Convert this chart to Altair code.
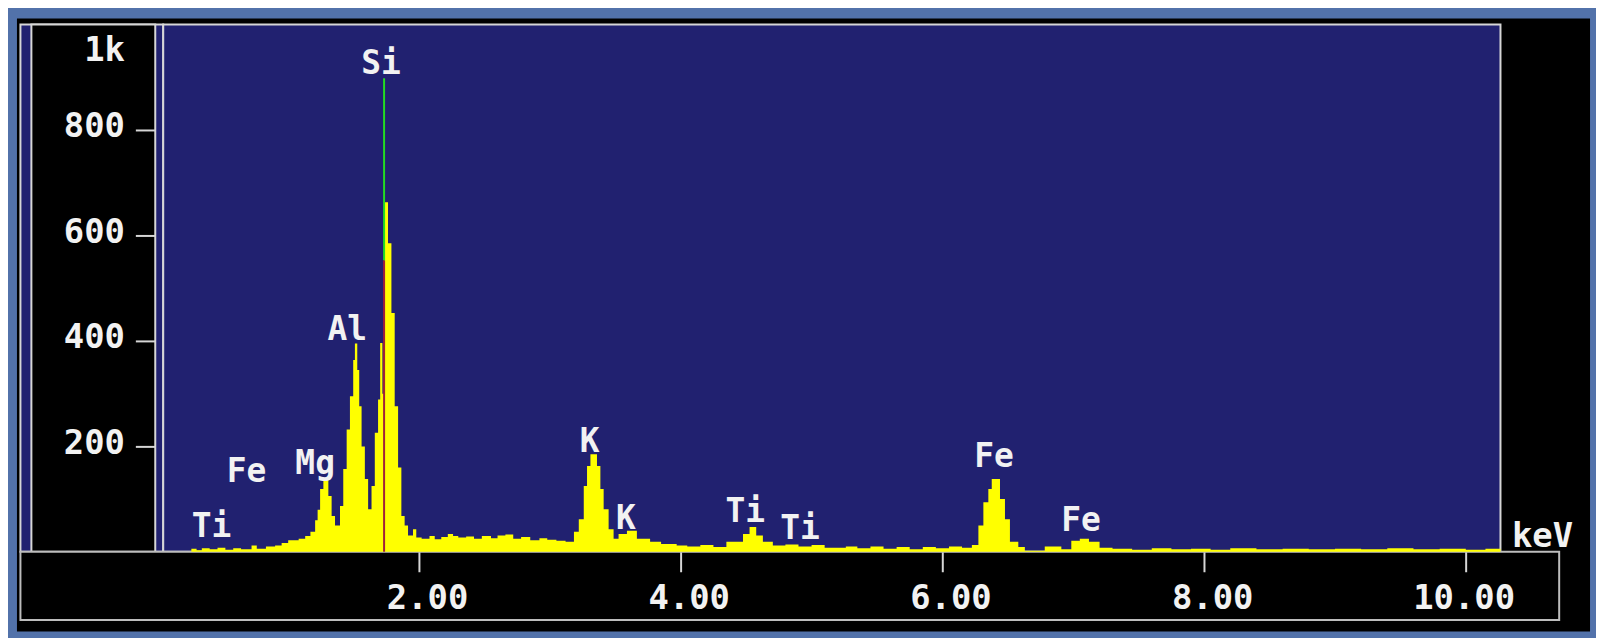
import altair as alt
import pandas as pd

# ---------------- data ----------------
energy_kev = [
    0.045, 0.26, 0.30, 0.34, 0.40, 0.46, 0.52, 0.58, 0.64, 0.72,
    0.76, 0.83, 0.90, 0.95, 1.00, 1.08, 1.13, 1.17, 1.206, 1.225,
    1.244, 1.269, 1.307, 1.332, 1.358, 1.396, 1.421, 1.447, 1.472, 1.497,
    1.510, 1.528, 1.543, 1.561, 1.586, 1.611, 1.637, 1.662, 1.687, 1.703,
    1.720, 1.735, 1.763, 1.789, 1.814, 1.840, 1.865, 1.890, 1.916, 1.954,
    1.979, 2.02, 2.08, 2.12, 2.17, 2.22, 2.26, 2.30, 2.36, 2.42,
    2.48, 2.55, 2.60, 2.66, 2.72, 2.78, 2.85, 2.92, 2.98, 3.05,
    3.12, 3.184, 3.221, 3.259, 3.284, 3.310, 3.360, 3.386, 3.411, 3.449,
    3.487, 3.525, 3.589, 3.665, 3.766, 3.85, 3.969, 4.05, 4.15, 4.25,
    4.349, 4.476, 4.526, 4.577, 4.628, 4.704, 4.80, 4.90, 5.00, 5.10,
    5.262, 5.35, 5.45, 5.55, 5.65, 5.75, 5.85, 5.95, 6.05, 6.15,
    6.225, 6.275, 6.313, 6.351, 6.377, 6.440, 6.478, 6.516, 6.580, 6.630,
    6.782, 6.909, 6.985, 7.05, 7.12, 7.201, 7.30, 7.45, 7.60, 7.75,
    7.90, 8.05, 8.20, 8.40, 8.60, 8.80, 9.00, 9.20, 9.40, 9.60,
    9.80, 10.00, 10.15, 10.265,
]
counts = [
    0, 6, 3, 7, 5, 8, 4, 7, 5, 12,
    6, 10, 12, 17, 22, 25, 30, 38, 60, 80,
    119, 140, 106, 68, 50, 87, 157, 232, 295, 364,
    395, 345, 276, 200, 138, 81, 125, 226, 289, 396,
    300, 663, 585, 453, 276, 160, 68, 50, 31, 43,
    27, 25, 30, 24, 28, 34, 30, 27, 29, 25,
    30, 26, 31, 33, 25, 28, 22, 26, 23, 21,
    19, 38, 62, 125, 163, 185, 163, 119, 81, 43,
    25, 34, 40, 25, 19, 15, 12, 10, 13, 9,
    19, 34, 47, 31, 19, 12, 14, 10, 13, 8,
    10, 7, 10, 6, 9, 5, 9, 7, 10, 8,
    13, 50, 94, 119, 138, 100, 62, 19, 9, 2,
    10, 5, 21, 25, 19, 8, 6, 4, 7, 5,
    6, 4, 7, 5, 6, 5, 6, 5, 7, 5,
    6, 4, 6, 6,
]
assert len(energy_kev) == len(counts)

label_text = ["Ti", "Fe", "Mg", "Al", "Si", "K", "K", "Ti", "Ti", "Fe", "Fe"]
label_kev = [0.414, 0.682, 1.206, 1.452, 1.710, 3.303, 3.580, 4.494, 4.912, 6.395, 7.060]
label_counts = [28, 132, 147, 402, 906, 189, 43, 56, 25, 160, 40]

si_marker_kev = [1.733]
si_marker_top = [898]
si_marker_mid = [553]
si_marker_base = [0]

x_ticks = [2, 4, 6, 8, 10]
y_ticks = [200, 400, 600, 800, 1000]

# ---------------- styling ----------------
FONT = "DejaVu Sans Mono"
WHITE = "#F2F2F2"
LINE = "#D6D6D6"
NAVY = "#212170"
FRAME = "#5272AA"
W, H = 1344, 530

spec_df = pd.DataFrame({"keV": energy_kev, "counts": counts})
lab_df = pd.DataFrame({"keV": label_kev, "counts": label_counts, "name": label_text})
mk_df = pd.DataFrame({"keV": si_marker_kev, "top": si_marker_top,
                      "mid": si_marker_mid, "base": si_marker_base})
one = pd.DataFrame({"d": [0]})

xscale = alt.Scale(domain=[0.045, 10.265], nice=False, zero=False)
yscale = alt.Scale(domain=[0, 1000], nice=False)

xaxis = alt.Axis(
    values=x_ticks, format=".2f", grid=False, domain=False,
    tickColor=LINE, tickWidth=2, tickSize=20,
    labelFont=FONT, labelFontSize=34, labelFontWeight="bold", labelColor=WHITE,
    labelAlign="right", labelOffset=49, labelBaseline="alphabetic", labelPadding=37,
    labelFlush=False, labelOverlap=False, labelBound=False,
    title="keV", titleFont=FONT, titleFontSize=34, titleFontWeight="bold",
    titleColor=WHITE, titleX=1355, titleY=-5, titleAlign="left",
    titleBaseline="alphabetic", titleAngle=0, zindex=2,
)
yaxis = alt.Axis(
    values=y_ticks, grid=False, domain=False, offset=8,
    tickColor={"condition": {"test": "datum.value >= 1000", "value": "transparent"}, "value": LINE},
    tickWidth=2, tickSize=20,
    labelExpr="datum.value >= 1000 ? '1k' : format(datum.value, 'd')",
    labelFont=FONT, labelFontSize=34, labelFontWeight="bold", labelColor=WHITE,
    labelAlign="right", labelBaseline="middle", labelPadding=11,
    labelOffset={"condition": {"test": "datum.value >= 1000", "value": 26}, "value": -3},
    labelFlush=False, labelOverlap=False, labelBound=False,
    title=None, zindex=2,
)

X = alt.X("keV:Q", scale=xscale, axis=xaxis)


def panel(x1, x2, y1, y2, fill, stroke=None):
    kw = {"fill": fill}
    if stroke:
        kw.update(stroke=stroke, strokeWidth=2)
    return alt.Chart(one).mark_rect(**kw).encode(
        x=alt.value(x1), x2=alt.value(x2), y=alt.value(y1), y2=alt.value(y2)
    )


# frame decoration (screen-like instrument window)
bg_black = panel(-147, 1434, -6, 610, "#000000")
left_box = panel(-143.5, 0, 0, 530, NAVY, LINE)
y_panel = panel(-132.5, -8, 0, 530, "#000000", LINE)
plot_box = panel(0, W, 0, H, NAVY, LINE)
x_box = panel(-143.5, 1403, 530, 598.5, "#000000", "#BDBDBD")

spectrum = alt.Chart(spec_df).mark_area(
    interpolate="step-after", color="#FFFF00"
).encode(
    x=X,
    y=alt.Y("counts:Q", scale=yscale, axis=yaxis, stack=None),
)

red_line = alt.Chart(mk_df).mark_rule(color="#A0203A", strokeWidth=2).encode(
    x=X, y=alt.Y("base:Q", scale=yscale, axis=yaxis), y2="mid:Q"
)
green_line = alt.Chart(mk_df).mark_rule(color="#22DD22", strokeWidth=2).encode(
    x=X, y=alt.Y("mid:Q", scale=yscale, axis=yaxis), y2="top:Q"
)

labels = alt.Chart(lab_df).mark_text(
    font=FONT, fontSize=33, fontWeight="bold", color=WHITE,
    align="center", baseline="alphabetic"
).encode(
    x=X,
    y=alt.Y("counts:Q", scale=yscale, axis=yaxis),
    text="name:N",
)

chart = alt.layer(
    bg_black, left_box, y_panel, plot_box, x_box,
    spectrum, red_line, green_line, labels,
).properties(
    width=W, height=H,
    autosize=alt.AutoSizeParams(type="none"),
    padding={"left": 156, "top": 15, "right": 96, "bottom": 85},
    background=FRAME,
).configure_view(stroke=None, fill=None)

chart.save("out.html", embed_options={"renderer": "svg", "actions": False})
